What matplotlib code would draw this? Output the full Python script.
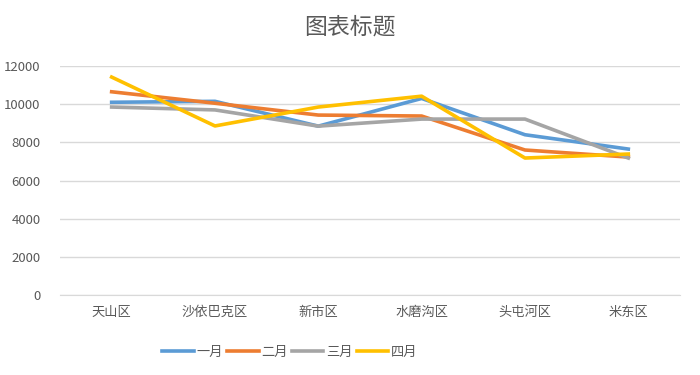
import matplotlib.pyplot as plt

plt.rcParams['font.family'] = ['Noto Sans CJK SC', 'DejaVu Sans']

# Data
districts = ["天山区", "沙依巴克区", "新市区", "水磨沟区", "头屯河区", "米东区"]
jan = [10100, 10150, 8850, 10300, 8400, 7650]
feb = [10650, 10050, 9430, 9380, 7600, 7230]
mar = [9850, 9700, 8850, 9220, 9220, 7180]
apr = [11420, 8860, 9850, 10420, 7180, 7390]
months = ["一月", "二月", "三月", "四月"]
colors = ["#5B9BD5", "#ED7D31", "#A5A5A5", "#FFC000"]

fig = plt.figure(figsize=(7, 3.75), dpi=100)
ax = fig.add_axes([0.0857, 0.213, 0.8857, 0.611])

x = range(len(districts))
for vals, name, c in zip([jan, feb, mar, apr], months, colors):
    ax.plot(x, vals, color=c, lw=2.6, label=name)

ax.set_xlim(-0.5, len(districts) - 0.5)
ax.set_ylim(0, 12000)
ax.set_yticks(range(0, 12001, 2000))
ax.set_xticks(list(x))
ax.set_xticklabels(districts)
ax.grid(axis="y", color="#D9D9D9", lw=1)
ax.set_axisbelow(True)
for s in ["top", "right", "left"]:
    ax.spines[s].set_visible(False)
ax.spines["bottom"].set_color("#D9D9D9")
ax.tick_params(length=0, colors="#595959", labelsize=9.5)
ax.tick_params(axis="y", pad=14)
ax.tick_params(axis="x", pad=8)

fig.text(0.5, 0.928, "图表标题", ha="center", va="center",
         fontsize=16.5, color="#595959")
fig.legend(loc="center", bbox_to_anchor=(0.414, 0.06), ncol=4, frameon=False,
           fontsize=9.5, labelcolor="#595959", handlelength=2.4,
           handletextpad=0.2, columnspacing=0.3)

plt.savefig("out.png", dpi=100)
plt.close()
